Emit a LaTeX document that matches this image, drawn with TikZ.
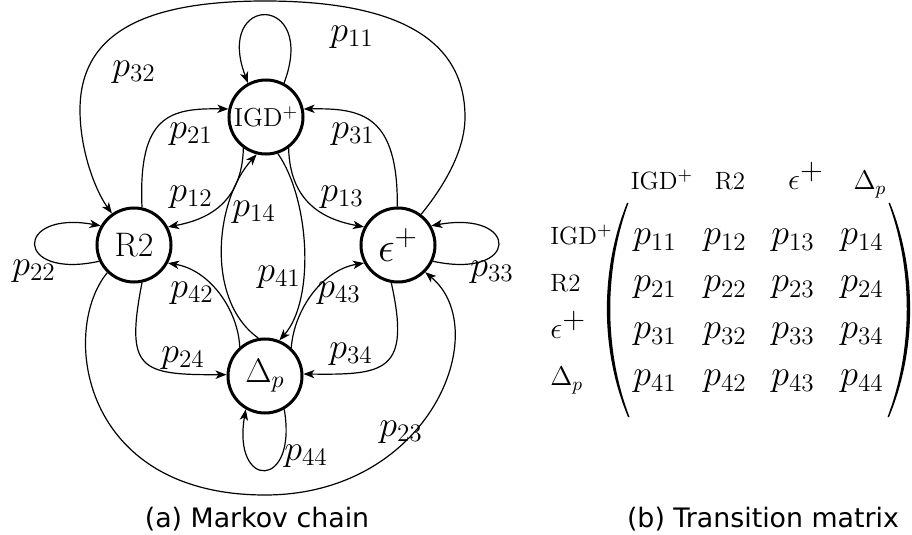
\RequirePackage{fix-cm}
\documentclass[tikz,border=0pt]{standalone}
\usepackage{fontspec}
\newfontfamily\capfont{DejaVu Sans}
\usetikzlibrary{arrows.meta}
\newcommand\fsz[1]{\fontsize{#1}{#1}\selectfont}
\begin{document}
\begin{tikzpicture}[x=0.5pt,y=-0.5pt,
  state/.style={circle,draw,line width=1.5pt,minimum size=37pt,inner sep=0pt},
  edge/.style={line width=0.6pt,-{Stealth[length=5.5pt,width=4.2pt,inset=1.5pt]}},
  lbl/.style={font=\fsz{18pt},inner sep=0pt},
  ent/.style={font=\fsz{18pt},inner sep=0pt,anchor=base},
  hdr/.style={font=\fsz{12.5pt},inner sep=0pt,anchor=base},
  rowl/.style={font=\fsz{12.5pt},inner sep=0pt,anchor=base west},
  captxt/.style={font=\capfont\fsz{13.4pt},inner sep=0pt,anchor=base}]
\useasboundingbox (0,0) rectangle (912,535);
% states
\node[state,font=\fsz{13pt}] (I) at (266,117) {IGD$^+$};
\node[state,font=\fsz{17pt}] (R) at (134,245) {R2};
\node[state,font=\fsz{21pt}] (E) at (398,245) {$\epsilon^+$};
\node[state,font=\fsz{17pt}] (D) at (265,376) {$\Delta_p$};
% edges
\draw[edge] (I.62) .. controls (318,-7) and (214,-7) .. (I.118);
\draw[edge] (E.53) .. controls (445,185) and (465,150) .. (465,117)
  .. controls (465,30) and (380,1) .. (265,1)
  .. controls (150,1) and (80,30) .. (80,110)
  .. controls (80,150) and (95,190) .. (R.125);
\draw[edge] (R.78) .. controls (138,115) and (170,108) .. (I.168);
\draw[edge] (E.91) .. controls (398,115) and (362,108) .. (I.12);
\draw[edge] (I.234) .. controls (242,205) and (205,220) .. (R.28);
\draw[edge] (I.306) .. controls (290,205) and (327,220) .. (E.152);
\draw[edge] (D.100) .. controls (205,300) and (215,200) .. (I.256);
\draw[edge] (I.288) .. controls (310,200) and (315,300) .. (D.68);
\draw[edge] (D.131) .. controls (238,310) and (210,270) .. (R.332);
\draw[edge] (D.47) .. controls (294,310) and (322,270) .. (E.208);
\draw[edge] (R.282) .. controls (125,370) and (140,375) .. (D.178);
\draw[edge] (E.260) .. controls (411,372) and (385,375) .. (D.3);
\draw[edge] (R.205) .. controls (14,280) and (14,210) .. (R.150);
\draw[edge] (E.335) .. controls (520,280) and (520,210) .. (E.30);
\draw[edge] (D.300) .. controls (298,490) and (232,490) .. (D.240);
\draw[edge] (R.226) .. controls (60,330) and (80,495) .. (265,495)
  .. controls (430,495) and (495,330) .. (E.315);
% edge labels
\node[lbl] (l11) at (352,37) {$p_{11}$};
\node[lbl] (l32) at (134,72) {$p_{32}$};
\node[lbl] (l21) at (191,134) {$p_{21}$};
\node[lbl] (l31) at (353,134) {$p_{31}$};
\node[lbl] (l12) at (191,197) {$p_{12}$};
\node[lbl] (l13) at (342,197) {$p_{13}$};
\node[lbl] (l14) at (254,212) {$p_{14}$};
\node[lbl] (l22) at (34,271) {$p_{22}$};
\node[lbl] (l33) at (492,272) {$p_{33}$};
\node[lbl] (l41) at (279,277) {$p_{41}$};
\node[lbl] (l42) at (192,293) {$p_{42}$};
\node[lbl] (l43) at (339,293) {$p_{43}$};
\node[lbl] (l24) at (183,358) {$p_{24}$};
\node[lbl] (l34) at (351,354) {$p_{34}$};
\node[lbl] (l23) at (401,432) {$p_{23}$};
\node[lbl] (l44) at (306,456) {$p_{44}$};
% matrix header
\node[hdr] (h1) at (662,190) {IGD$^+$};
\node[hdr] (h2) at (730,190) {R2};
\node[hdr,font=\fsz{15pt}] (h3) at (806,190) {$\epsilon^{\textstyle +}$};
\node[hdr,font=\fsz{13.5pt}] (h4) at (870,190) {$\Delta_p$};
% row labels
\node[rowl] (r1) at (550,245) {IGD$^+$};
\node[rowl] (r2) at (550,292) {R2};
\node[rowl,font=\fsz{15pt}] (r3) at (550,339) {$\epsilon^{\textstyle +}$};
\node[rowl,font=\fsz{13.5pt}] (r4) at (550,386) {$\Delta_p$};
% entries
\foreach \r/\y in {1/245,2/292,3/339,4/386}{
  \foreach \c/\x in {1/655,2/725,3/793,4/862}{
    \node[ent] (m\r\c) at (\x,\y) {$p_{\r\c}$};
  }
}
% parentheses
\fill (627,203) .. controls (600,270) and (600,350) .. (628,417)
  -- (629.5,417) .. controls (604,350) and (604,270) .. (628.5,203) -- cycle;
\fill (890,203) .. controls (917,270) and (917,350) .. (889,417)
  -- (887.5,417) .. controls (913,350) and (913,270) .. (888.5,203) -- cycle;
% captions
\node[captxt] (capa) at (257,527) {(a) Markov chain};
\node[captxt] (capb) at (763,527) {(b) Transition matrix};
\end{tikzpicture}
\end{document}
